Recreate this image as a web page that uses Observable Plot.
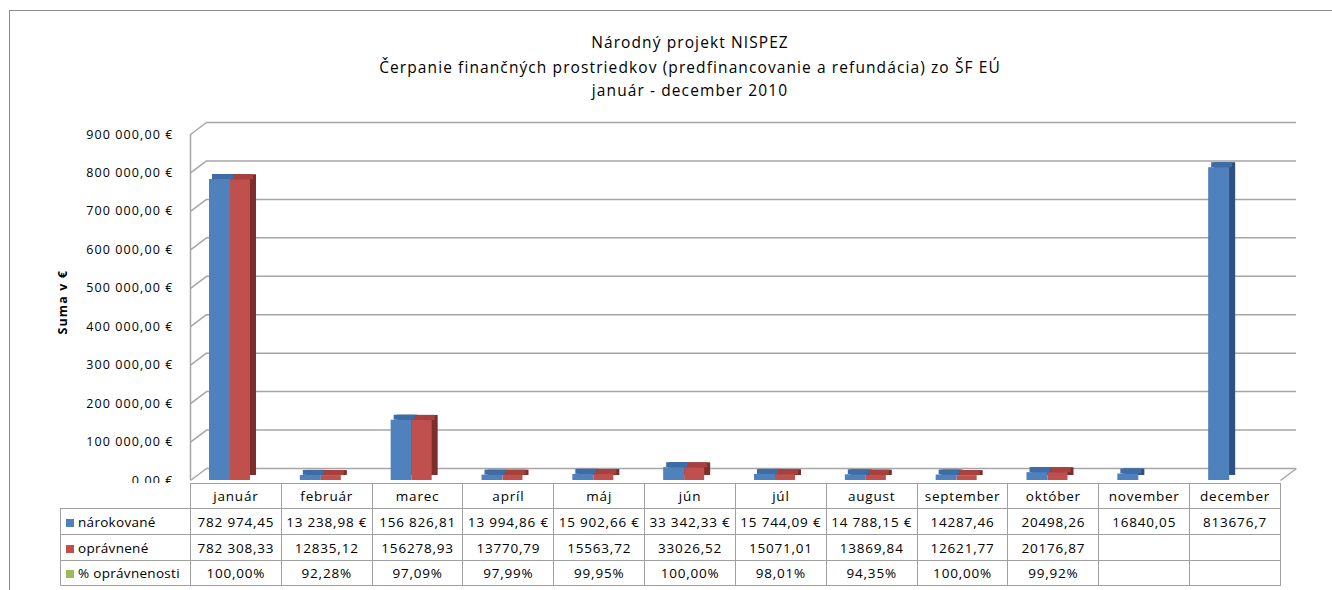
<!DOCTYPE html>
<html>
<head>
<meta charset="utf-8">
<script src="https://cdn.jsdelivr.net/npm/d3@7"></script>
<script src="https://cdn.jsdelivr.net/npm/@observablehq/plot@0.6"></script>
<style>
  body { margin: 0; background: #fff; font-family: "Open Sans", Lato, sans-serif; color: #000; }
  #page { position: relative; width: 1332px; height: 590px; overflow: hidden; background: #fff; }
  #frame { position: absolute; left: 9px; top: 10px; width: 1400px; height: 700px;
           border-left: 1px solid #8c8c8c; border-top: 1px solid #8c8c8c; }
  .title { position: absolute; left: 0; width: 1380px; text-align: center; font-size: 15.5px;
           line-height: 20px; white-space: nowrap; letter-spacing: 1.1px; }
  #chart { position: absolute; left: 0; top: 100px; }
  #tbl { position: absolute; left: 60px; top: 483px; border-collapse: collapse;
         table-layout: fixed; font-size: 13.5px; background: #fff; }
  #tbl td { border: 1px solid #a0a0a0; padding: 0; text-align: center; white-space: nowrap;
            overflow: hidden; letter-spacing: 0.8px; }
  #tbl td.blank { border: none; background: transparent; }
  #tbl td.leg { text-align: left; padding-left: 5px; letter-spacing: 0.3px; }
  .sw { display: inline-block; width: 8px; height: 8px; margin-right: 4px; vertical-align: 0px; }
</style>
</head>
<body>
<div id="page">
  <div id="frame"></div>
  <div class="title" style="top:32px">Národný projekt NISPEZ</div>
  <div class="title" style="top:57px">Čerpanie finančných prostriedkov (predfinancovanie a refundácia) zo ŠF EÚ</div>
  <div class="title" style="top:80px">január - december 2010</div>
  <div id="chart"></div>
  <table id="tbl"></table>
</div>
<script>
// ---- data ----
const months = ["január", "február", "marec", "apríl", "máj", "jún", "júl", "august", "september", "október", "november", "december"];
const narokovane = [782974.45, 13238.98, 156826.81, 13994.86, 15902.66, 33342.33, 15744.09, 14788.15, 14287.46, 20498.26, 16840.05, 813676.7];
const opravnene = [782308.33, 12835.12, 156278.93, 13770.79, 15563.72, 33026.52, 15071.01, 13869.84, 12621.77, 20176.87, null, null];
const narokovaneLabels = ["782 974,45", "13 238,98 €", "156 826,81", "13 994,86 €", "15 902,66 €", "33 342,33 €", "15 744,09 €", "14 788,15 €", "14287,46", "20498,26", "16840,05", "813676,7"];
const opravneneLabels = ["782 308,33", "12835,12", "156278,93", "13770,79", "15563,72", "33026,52", "15071,01", "13869,84", "12621,77", "20176,87", "", ""];
const percentLabels = ["100,00%", "92,28%", "97,09%", "97,99%", "99,95%", "100,00%", "98,01%", "94,35%", "100,00%", "99,92%", "", ""];
const seriesNames = ["nárokované", "oprávnené", "% oprávnenosti"];
const yTicks = [0, 100000, 200000, 300000, 400000, 500000, 600000, 700000, 800000, 900000];

// ---- styles ----
const colors = {
  blue: "#4f81bd", blueTop: "#3e6ca6", blueSide: "#2d5182",
  red: "#c0504d", redTop: "#a8413e", redSide: "#7d2e2c",
  green: "#9bbb59", grid: "#a6a6a6"
};

const W = 1332, H = 400, mL = 190, mR = 52, mT = 34, mB = 20;
const bw = (W - mL - mR) / months.length;           // band width in px
const depthPx = [16, -12];                          // 3D wall depth in px
const dX = depthPx[0] * months.length / (W - mL - mR);
const dY = -depthPx[1] * yTicks[yTicks.length - 1] / (H - mB - mT);

const rows = months.map((m, i) => ({ month: m, i, n: narokovane[i], o: opravnene[i] }));
const blue = rows.filter(d => d.n != null);
const red = rows.filter(d => d.o != null);

const loc = d3.formatLocale({ decimal: ",", thousands: "\u00a0", grouping: [3], currency: ["", "\u00a0€"] });
const fmt = loc.format("$,.2f");

const barOpts = (key, l, r) => ({ x1: "i", x2: d => d.i + 1, y: key, insetLeft: l, insetRight: bw - r });

const chart = Plot.plot({
  width: W, height: H,
  marginLeft: mL, marginRight: mR, marginTop: mT, marginBottom: mB,
  style: { fontFamily: "'Open Sans', Lato, sans-serif", fontSize: "12.5px", background: "transparent", color: "#000", letterSpacing: "1.1px" },
  x: { domain: [0, months.length], axis: null },
  y: { domain: [0, 900000], ticks: yTicks, tickFormat: fmt, tickSize: 0, tickPadding: 17, label: null },
  marks: [
    // back-wall gridlines and left-wall diagonals
    Plot.ruleY(yTicks, { y: d => d + dY, x1: dX, x2: months.length + dX, stroke: colors.grid, strokeWidth: 1.5 }),
    Plot.link(yTicks, { x1: 0, y1: d => d, x2: dX, y2: d => d + dY, stroke: colors.grid, strokeWidth: 1.5 }),
    Plot.ruleX([0], { y1: 0, y2: 900000, stroke: colors.grid, strokeWidth: 1.5 }),
    Plot.link([0], { x1: months.length, y1: 0, x2: months.length + dX, y2: dY, stroke: colors.grid, strokeWidth: 1.5 }),
    // blue bars (nárokované)
    Plot.rectY(blue, { ...barOpts("n", 19, 40), fill: colors.blueSide, dx: 6, dy: -5 }),
    Plot.rect(blue, { x1: "i", x2: d => d.i + 1, y1: "n", y2: "n", insetLeft: 22, insetRight: bw - 43, insetTop: -5, fill: colors.blueTop }),
    Plot.rectY(blue, { ...barOpts("n", 19, 40), fill: colors.blue }),
    // red bars (oprávnené)
    Plot.rectY(red, { ...barOpts("o", 40, 60), fill: colors.redSide, dx: 6, dy: -5 }),
    Plot.rect(red, { x1: "i", x2: d => d.i + 1, y1: "o", y2: "o", insetLeft: 43, insetRight: bw - 63, insetTop: -5, fill: colors.redTop }),
    Plot.rectY(red, { ...barOpts("o", 40, 60), fill: colors.red }),
    // axis title
    Plot.text(["Suma v €"], { text: d => d, frameAnchor: "left", dx: -128, dy: 27, rotate: -90, fontWeight: "bold", fontSize: 12.5 })
  ]
});
document.getElementById("chart").appendChild(chart);

// ---- data table below the chart ----
const tbl = d3.select("#tbl");
const cg = tbl.append("colgroup");
cg.append("col").style("width", "130px");
months.forEach(() => cg.append("col").style("width", bw + "px"));
tbl.style("width", (130 + bw * months.length) + "px");

const head = tbl.append("tr").style("height", "25px");
head.append("td").attr("class", "blank");
months.forEach(m => head.append("td").text(m));

const tableRows = [
  { name: seriesNames[0], color: colors.blue, labels: narokovaneLabels, h: "26px" },
  { name: seriesNames[1], color: colors.red, labels: opravneneLabels, h: "26px" },
  { name: seriesNames[2], color: colors.green, labels: percentLabels, h: "25px" }
];
tableRows.forEach(r => {
  const tr = tbl.append("tr").style("height", r.h);
  const lg = tr.append("td").attr("class", "leg");
  lg.append("span").attr("class", "sw").style("background", r.color);
  lg.append("span").text(r.name);
  r.labels.forEach(v => tr.append("td").text(v));
});
</script>
</body>
</html>
